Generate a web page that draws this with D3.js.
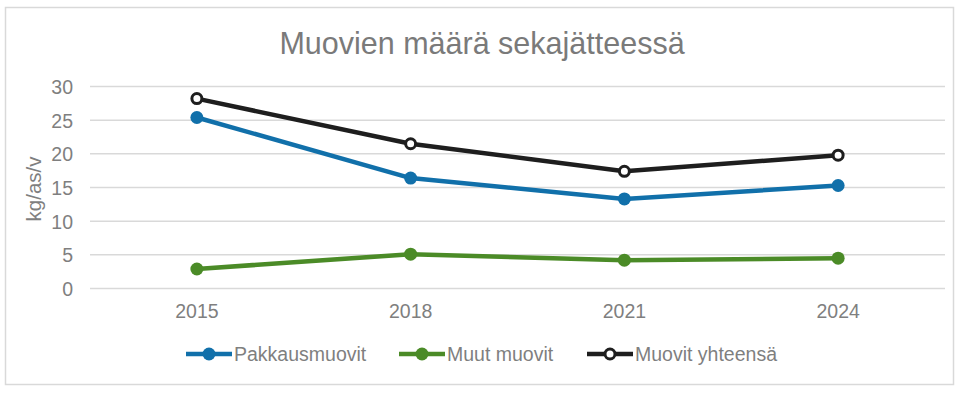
<!DOCTYPE html>
<html>
<head>
<meta charset="utf-8">
<script src="https://cdn.jsdelivr.net/npm/d3@7"></script>
<style>
  body { margin: 0; background: #fff; }
  text { font-family: "Liberation Sans", Arial, sans-serif; fill: #7f7f7f; }
</style>
</head>
<body>
<script>
// Chart size
var width = 963;
var height = 393;

// Data
var years = ["2015", "2018", "2021", "2024"];
var pakkausmuovit = [25.4, 16.4, 13.3, 15.3];
var muutMuovit = [2.9, 5.1, 4.2, 4.5];
var yhteensa = [28.2, 21.5, 17.4, 19.8];
var yTicks = [0, 5, 10, 15, 20, 25, 30];
var seriesNames = ["Pakkausmuovit", "Muut muovit", "Muovit yhteensä"];

var series = [
  { name: seriesNames[0], values: pakkausmuovit, color: "#1170aa", hollow: false },
  { name: seriesNames[1], values: muutMuovit, color: "#4b8b27", hollow: false },
  { name: seriesNames[2], values: yhteensa, color: "#1e1e1e", hollow: true }
];

var svg = d3.select("body")
  .append("svg")
  .attr("width", width)
  .attr("height", height);

// Outer border
svg.append("rect")
  .attr("x", 5.5).attr("y", 7.5)
  .attr("width", 948).attr("height", 377)
  .attr("fill", "#fff")
  .attr("stroke", "#d9d9d9")
  .attr("stroke-width", 1.5);

// Title
svg.append("text")
  .attr("x", 482).attr("y", 54)
  .attr("text-anchor", "middle")
  .style("font-size", "30.5px")
  .style("fill", "#7a7a7a")
  .text("Muovien määrä sekajätteessä");

// Scales
var x = d3.scaleBand()
  .domain(years)
  .range([90, 945]);

var y = d3.scaleLinear()
  .domain([0, 30])
  .range([288.5, 86.5]);

// Gridlines
svg.append("g")
  .selectAll("line")
  .data(yTicks)
  .enter()
  .append("line")
  .attr("x1", 90).attr("x2", 945)
  .attr("y1", function(d) { return y(d); })
  .attr("y2", function(d) { return y(d); })
  .attr("stroke", "#d9d9d9")
  .attr("stroke-width", 1.5);

// Y axis
var yAxis = svg.append("g")
  .attr("transform", "translate(73,0)")
  .call(d3.axisLeft(y).tickValues(yTicks).tickSize(0).tickPadding(0));
yAxis.select(".domain").remove();
yAxis.selectAll("text")
  .style("font-size", "19.5px")
  .style("fill", "#7f7f7f")
  .attr("dy", "0.36em");

// X axis
var xAxis = svg.append("g")
  .attr("transform", "translate(0,300)")
  .call(d3.axisBottom(x).tickSize(0).tickPadding(0));
xAxis.select(".domain").remove();
xAxis.selectAll("text")
  .style("font-size", "19.5px")
  .style("fill", "#7f7f7f")
  .attr("dy", "0.92em");

// Y label
svg.append("text")
  .attr("transform", "translate(41,189) rotate(-90)")
  .attr("text-anchor", "middle")
  .style("font-size", "20.5px")
  .style("fill", "#7f7f7f")
  .text("kg/as/v");

// Lines
var line = d3.line()
  .x(function(d, i) { return x(years[i]) + x.bandwidth() / 2; })
  .y(function(d) { return y(d); });

series.forEach(function(s) {
  svg.append("path")
    .datum(s.values)
    .attr("d", line)
    .attr("fill", "none")
    .attr("stroke", s.color)
    .attr("stroke-width", 4.5)
    .attr("stroke-linejoin", "round");

  svg.append("g")
    .selectAll("circle")
    .data(s.values)
    .enter()
    .append("circle")
    .attr("cx", function(d, i) { return x(years[i]) + x.bandwidth() / 2; })
    .attr("cy", function(d) { return y(d); })
    .attr("r", s.hollow ? 5 : 6.5)
    .attr("fill", s.hollow ? "#fff" : s.color)
    .attr("stroke", s.color)
    .attr("stroke-width", s.hollow ? 3 : 0);
});

// Legend
var legendX = [186, 399, 587];
var legend = svg.selectAll("g.legend")
  .data(series)
  .enter()
  .append("g")
  .attr("class", "legend")
  .attr("transform", function(d, i) { return "translate(" + legendX[i] + ",354)"; });

legend.append("line")
  .attr("x1", 0).attr("x2", 46)
  .attr("stroke", function(d) { return d.color; })
  .attr("stroke-width", 4.5);

legend.append("circle")
  .attr("cx", 23)
  .attr("r", function(d) { return d.hollow ? 5 : 6.5; })
  .attr("fill", function(d) { return d.hollow ? "#fff" : d.color; })
  .attr("stroke", function(d) { return d.color; })
  .attr("stroke-width", function(d) { return d.hollow ? 3 : 0; });

legend.append("text")
  .attr("x", 48)
  .attr("y", 7)
  .style("font-size", "19.5px")
  .style("fill", "#7f7f7f")
  .text(function(d) { return d.name; });
</script>
</body>
</html>
